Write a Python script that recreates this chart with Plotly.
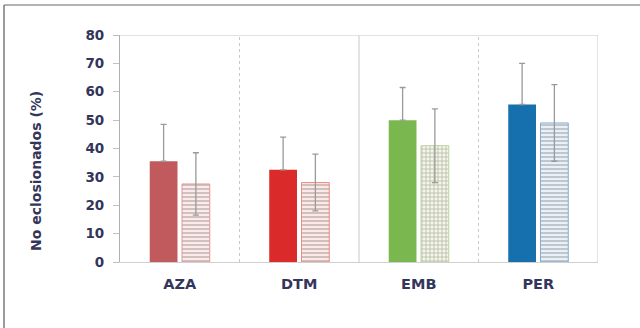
import plotly.graph_objects as go

# Treatments and hatching-rate values (%)
categories = ["AZA", "DTM", "EMB", "PER"]
solid_values = [35.5, 32.5, 50.0, 55.5]
solid_err = [13.0, 11.5, 11.5, 14.5]
hatched_values = [27.5, 28.0, 41.0, 49.0]
hatched_err = [11.0, 10.0, 13.0, 13.5]
y_ticks = [0, 10, 20, 30, 40, 50, 60, 70, 80]

solid_colors = ["#c05a5c", "#da2a2a", "#7ab84f", "#1670ae"]
hatch_bg = ["#fcebea", "#fde9e7", "#f3f7e6", "#e8f1f9"]
hatch_fg = ["#e29896", "#ee8884", "#bcd2a2", "#86acd0"]
hatch_shape = ["-", "-", "+", "-"]

W, H = 640, 328
L, R, T, B = 120, 598, 35, 262
FONT = "DejaVu Sans, Arial"
TEXT = "#33365a"

fig = go.Figure()
fig.add_trace(go.Bar(
    x=categories, y=solid_values,
    marker=dict(color=solid_colors, line=dict(width=0)),
    error_y=dict(type="data", array=solid_err, arrayminus=[0, 0, 0, 0],
                 symmetric=False, color="#9a9a9a", thickness=1.3, width=3),
    showlegend=False,
))
fig.add_trace(go.Bar(
    x=categories, y=hatched_values,
    marker=dict(color=hatch_bg, line=dict(width=1, color=hatch_fg),
                pattern=dict(shape=hatch_shape, fgcolor=hatch_fg, bgcolor=hatch_bg,
                             fillmode="overlay", size=4, solidity=0.25)),
    error_y=dict(type="data", array=hatched_err, color="#9a9a9a",
                 thickness=1.3, width=3),
    showlegend=False,
))

def px_x(px):
    return (px - L) / (R - L)

def px_y(py):
    return (B - py) / (B - T)

shapes = []
# group dividers
for i, xv in enumerate([0.5, 1.5, 2.5]):
    shapes.append(dict(type="line", xref="x", yref="y", x0=xv, x1=xv, y0=0, y1=80,
                       line=dict(color="#c8c8c8", width=1,
                                 dash="solid" if i == 1 else "dot")))
# frame of the plotting box
shapes.append(dict(type="line", xref="x", yref="y", x0=3.5, x1=3.5, y0=0, y1=80,
                   line=dict(color="#d0d0d0", width=1.2)))
shapes.append(dict(type="line", xref="x", yref="y", x0=-0.5, x1=3.5, y0=80, y1=80,
                   line=dict(color="#d8d8d8", width=1.5)))
# outer page border (top and left)
shapes.append(dict(type="line", xref="paper", yref="paper",
                   x0=px_x(4), x1=px_x(640), y0=px_y(5), y1=px_y(5),
                   line=dict(color="#9a9a9a", width=1.5)))
shapes.append(dict(type="line", xref="paper", yref="paper",
                   x0=px_x(4), x1=px_x(4), y0=px_y(5), y1=px_y(328),
                   line=dict(color="#7a7a7a", width=1.5)))

fig.update_layout(
    width=W, height=H,
    margin=dict(l=L, r=W - R, t=T, b=H - B),
    paper_bgcolor="white", plot_bgcolor="white",
    barmode="group", bargap=0.46, bargroupgap=0.14,
    shapes=shapes,
    xaxis=dict(range=[-0.5, 3.5], showgrid=False, showline=True,
               linecolor="#d0d0d0", linewidth=1, ticks="",
               tickfont=dict(family=FONT, size=14.5, color=TEXT, weight="bold"),
               ticklabelstandoff=9),
    yaxis=dict(range=[0, 80], tickvals=y_ticks, showgrid=False, showline=True,
               linecolor="#b0b0b0", linewidth=1.2, ticks="outside", ticklen=6,
               tickcolor="#c0c0c0", zeroline=False,
               tickfont=dict(family=FONT, size=13.5, color=TEXT, weight="bold"),
               ticklabelstandoff=6),
    annotations=[dict(
        text="No eclosionados (%)", xref="paper", yref="paper",
        x=px_x(36), y=px_y(171), textangle=-90, showarrow=False,
        font=dict(family=FONT, size=14, color=TEXT, weight="bold"),
        xanchor="center", yanchor="middle")],
)

fig.write_html("out.html")
